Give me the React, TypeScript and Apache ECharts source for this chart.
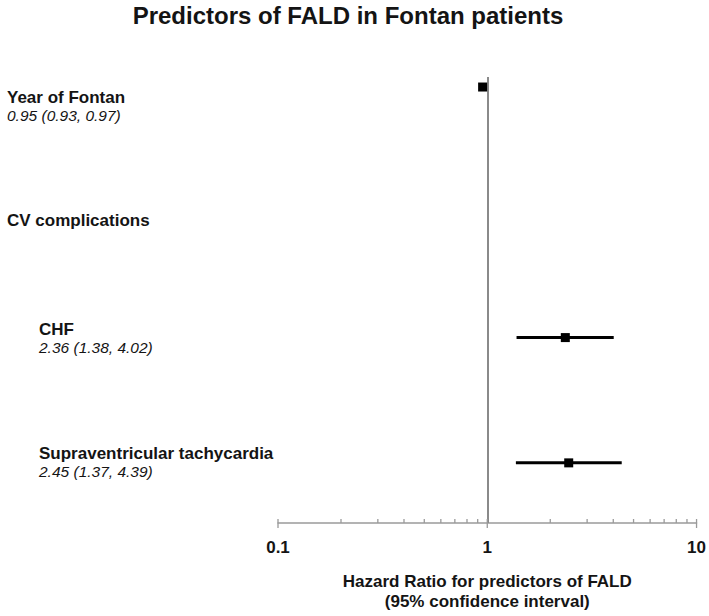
import React, { useEffect, useRef } from "react";
import * as echarts from "echarts";

const rowNames = ["Year of Fontan", "CHF", "Supraventricular tachycardia"];
const rowPos = [0, 2, 3];
const estimates = [0.95, 2.36, 2.45];
const lowers = [0.93, 1.38, 1.37];
const uppers = [0.97, 4.02, 4.39];
const valueTexts = ["0.95 (0.93, 0.97)", "2.36 (1.38, 4.02)", "2.45 (1.37, 4.39)"];
const headerName = "CV complications";
const majorTicks = [0.1, 1, 10];
const minorTicks = [0.2, 0.3, 0.4, 0.5, 0.6, 0.7, 0.8, 0.9, 2, 3, 4, 5, 6, 7, 8, 9];

const Y_MIN = -0.08;
const Y_MAX = 3.48;
const FONT = "Liberation Sans, Arial, sans-serif";
const TXT = "#141414";

export default function App() {
  const ref = useRef<HTMLDivElement>(null);
  useEffect(() => {
    if (!ref.current) return;
    const chart = echarts.init(ref.current, null, { renderer: "svg" });
    const ciData = rowPos.map((r, i) => [estimates[i], lowers[i], uppers[i], r]);
    const tickData = [
      ...majorTicks.map((v) => [v, 1]),
      ...minorTicks.map((v) => [v, 0]),
    ];
    const label = (text: string, x: number, y: number, bold: boolean, italic: boolean) => ({
      type: "text",
      x,
      y,
      style: {
        text,
        fill: TXT,
        font: `${italic ? "italic " : ""}${bold ? "bold " : ""}${bold ? 17 : 15.5}px ${FONT}`,
        textVerticalAlign: "middle",
        textAlign: "left",
      },
    });
    const graphics: any[] = [
      {
        type: "text",
        x: 348,
        y: 15,
        style: {
          text: "Predictors of FALD in Fontan patients",
          fill: TXT,
          font: `bold 24px ${FONT}`,
          textAlign: "center",
          textVerticalAlign: "middle",
        },
      },
      label(rowNames[0], 7, 97, true, false),
      label(valueTexts[0], 7, 115, false, true),
      label(headerName, 7, 220, true, false),
      label(rowNames[1], 39, 329, true, false),
      label(valueTexts[1], 39, 347, false, true),
      label(rowNames[2], 39, 453, true, false),
      label(valueTexts[2], 39, 471, false, true),
    ];
    chart.setOption({
      animation: false,
      grid: { left: 278, right: 12, top: 77, bottom: 93 },
      xAxis: {
        type: "log",
        logBase: 10,
        min: 0.1,
        max: 10,
        position: "bottom",
        axisLine: { show: true, onZero: false, lineStyle: { color: "#9a9a9a", width: 1.5 } },
        axisTick: { show: false },
        minorTick: { show: false },
        splitLine: { show: false },
        axisLabel: {
          color: TXT,
          fontFamily: FONT,
          fontWeight: "bold",
          fontSize: 17,
          margin: 16,
          formatter: (v: number) => String(+Number(v).toPrecision(3)),
        },
        name: "Hazard Ratio for predictors of FALD\n(95% confidence interval)",
        nameLocation: "middle",
        nameGap: 48,
        nameTextStyle: {
          color: TXT,
          fontFamily: FONT,
          fontWeight: "bold",
          fontSize: 17,
          lineHeight: 20,
        },
      },
      yAxis: {
        type: "value",
        inverse: true,
        min: Y_MIN,
        max: Y_MAX,
        show: false,
      },
      graphic: graphics,
      series: [
        {
          type: "custom",
          coordinateSystem: "cartesian2d",
          data: tickData,
          encode: { x: 0 },
          silent: true,
          renderItem: (params: any, api: any) => {
            const v = api.value(0);
            const major = api.value(1) === 1;
            const p = api.coord([v, Y_MAX]);
            return {
              type: "line",
              shape: { x1: p[0], y1: p[1] - 4, x2: p[0], y2: p[1] + (major ? 5 : 0) },
              style: { stroke: "#9a9a9a", lineWidth: 1.3 },
            };
          },
        },
        {
          type: "custom",
          coordinateSystem: "cartesian2d",
          data: ciData,
          encode: { x: [0, 1, 2], y: 3 },
          renderItem: (params: any, api: any) => {
            const row = api.value(3);
            const pe = api.coord([api.value(0), row]);
            const pl = api.coord([api.value(1), row]);
            const ph = api.coord([api.value(2), row]);
            const s = 9;
            return {
              type: "group",
              children: [
                {
                  type: "line",
                  shape: { x1: pl[0], y1: pl[1], x2: ph[0], y2: ph[1] },
                  style: { stroke: "#000", lineWidth: 3 },
                },
                {
                  type: "rect",
                  shape: { x: pe[0] - s / 2, y: pe[1] - s / 2, width: s, height: s },
                  style: { fill: "#000" },
                },
              ],
            };
          },
          markLine: {
            silent: true,
            symbol: "none",
            label: { show: false },
            lineStyle: { color: "#8a8a8a", width: 2, type: "solid" },
            data: [{ xAxis: 1 }],
            z: 1,
          },
        },
      ],
    });
    return () => chart.dispose();
  }, []);
  return (
    <div
      ref={ref}
      style={{ position: "fixed", left: 0, top: 0, width: 709, height: 616, background: "#fff" }}
    />
  );
}
